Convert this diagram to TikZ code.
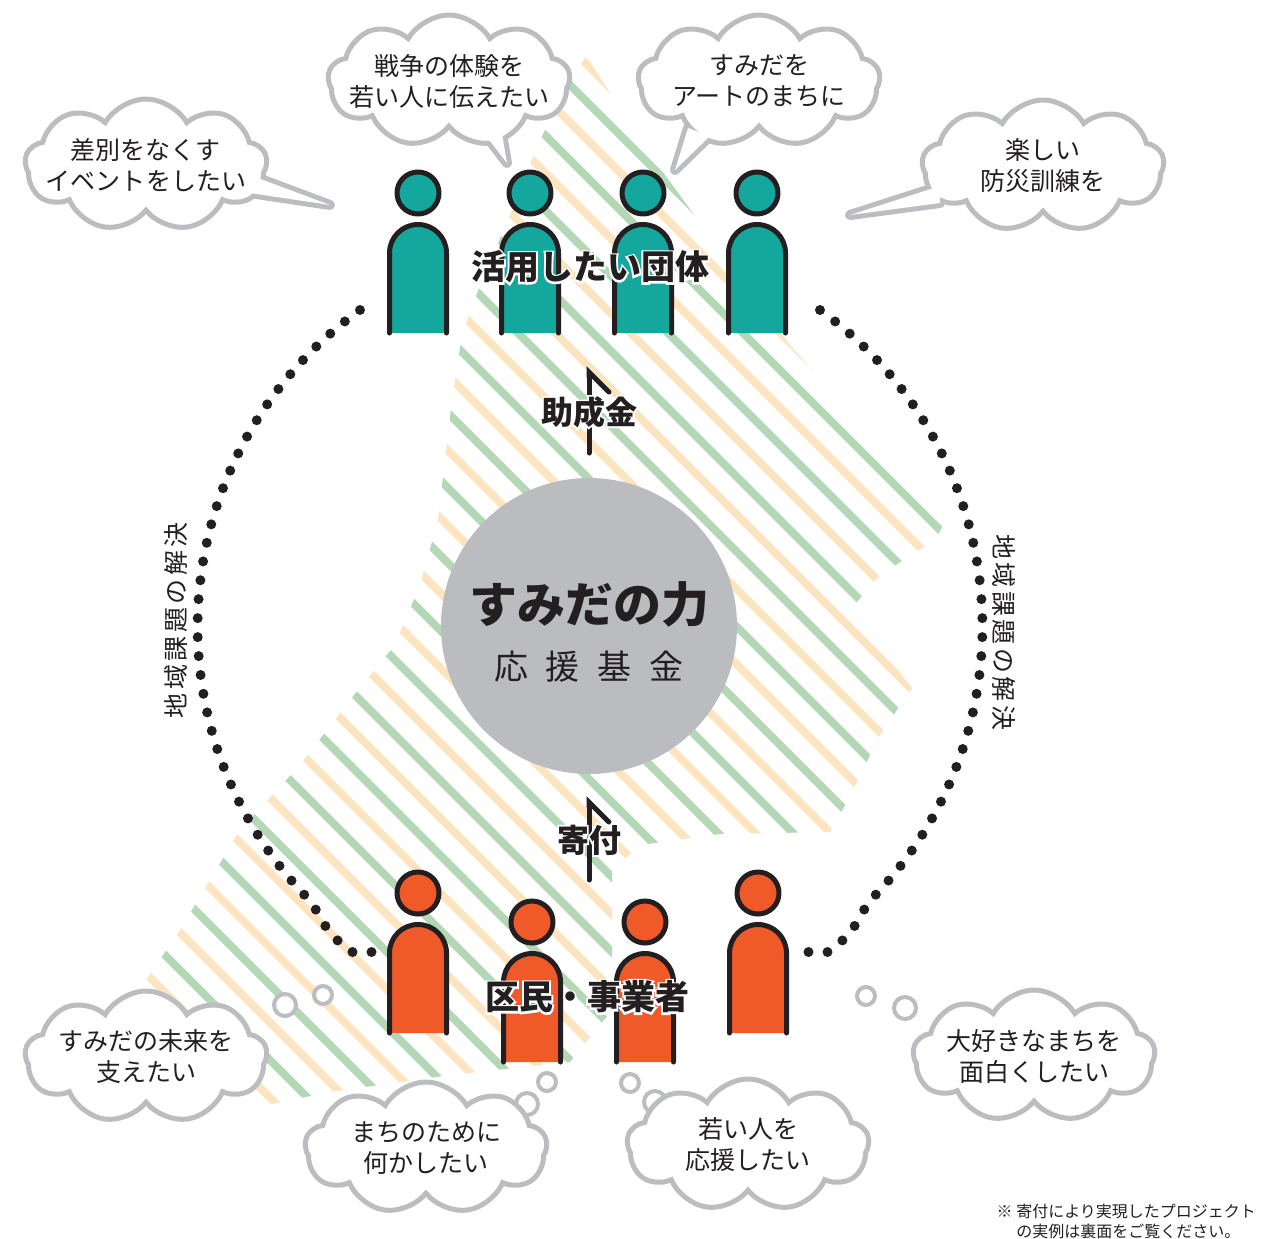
\documentclass[tikz,border=0pt]{standalone}
\usepackage{fontspec}
\setmainfont{Noto Sans CJK JP}
% white outlined copy of a bold label, laid under the label itself
\newfontfamily\halofont{Noto Sans CJK JP}[BoldFeatures={FakeBold=11}]
\newcommand\halo[1]{\leavevmode\rlap{\color{white}\halofont\bfseries #1}#1}
\usetikzlibrary{arrows.meta,shapes.symbols}

\definecolor{ink}{RGB}{35,31,32}
\definecolor{groupteal}{RGB}{19,167,157}
\definecolor{citizenorange}{RGB}{240,90,41}
\definecolor{fundgrey}{RGB}{187,188,192}
\definecolor{cloudgrey}{RGB}{188,189,193}
\definecolor{stripegreen}{RGB}{180,215,182}
\definecolor{stripeorange}{RGB}{253,228,192}

\begin{document}
\begin{tikzpicture}[x=0.5pt,y=-0.5pt,
    greenline/.style={draw=stripegreen, line width=4pt},
    orangeline/.style={draw=stripeorange, line width=4pt},
    outline/.style={draw=ink, line width=2.5pt, line cap=round, line join=round},
    head/.style={circle, outline, minimum size=21pt, inner sep=0pt},
    pics/person/.style={code={
        \filldraw[fill=#1, outline] (-28.5,140) -- (-28.5,60)
          arc[start angle=180, end angle=360, radius=28.5] -- (28.5,140);
        \node[head, fill=#1] (-head) at (0,0) {};
    }},
    fund/.style={circle, fill=fundgrey, minimum size=148pt, inner sep=0pt},
    grouplabel/.style={font=\bfseries\fontsize{17pt}{20pt}\selectfont, text=ink},
    flowlabel/.style={font=\bfseries\fontsize{16pt}{19pt}\selectfont, text=ink},
    flow/.style={draw=ink, line width=2.5pt, line cap=round,
      -{Straight Barb[harpoon, swap, length=10pt, width=20pt, line cap=round]}},
    dots/.style={draw=ink, line width=5pt, line cap=round, dash pattern=on 0pt off 9.5pt},
    sidelabel/.style={font=\fontsize{12.5pt}{14pt}\selectfont\addfontfeature{LetterSpace=14}, text=ink},
    wish/.style={cloud, cloud puffs=9, cloud puff arc=120, cloud ignores aspect,
      draw=cloudgrey, line width=2.5pt, fill=white,
      minimum width=121pt, minimum height=66pt, inner sep=0pt},
    wishtext/.style={align=center, text=ink, font=\fontsize{12.5pt}{15.5pt}\selectfont},
    tailback/.style={draw=cloudgrey, line width=5pt, line join=round, fill=white},
    tailfront/.style={fill=white},
    bubble/.style={circle, draw=cloudgrey, line width=2pt, fill=white, inner sep=0pt},
  ]
  \useasboundingbox (0,0) rectangle (1263,1238);

  % striped map of the ward
  \begin{scope}
    \clip (586,56) -- (628,120) -- (665,175) -- (720,250) -- (790,345) -- (860,425)
      -- (945,522) -- (935,540) -- (880,575) -- (850,610) -- (912,688) -- (880,735)
      -- (848,800) -- (830,832) -- (720,834) -- (640,845) -- (612,870) -- (612,1010)
      -- (570,1062) -- (450,1075) -- (330,1092) -- (252,1108) -- (138,992) -- (180,930)
      -- (240,830) -- (300,765) -- (350,700) -- (395,645) -- (420,585) -- (438,520)
      -- (445,460) -- (452,400) -- (462,335) -- (480,285) -- (510,215) -- (540,140)
      -- (565,90) -- cycle;
    \foreach \k in {-16,...,8} {
      \draw[greenline] (35+75*\k,0) -- ++(1300,1300);
      \draw[orangeline] (72.5+75*\k,0) -- ++(1300,1300);
    }
  \end{scope}

  % the loop of solved local issues
  \coordinate (dotL) at (360,310);
  \coordinate (dotLend) at (378,952);
  \coordinate (dotR) at (820,310);
  \coordinate (dotRend) at (800,952);
  \draw[dots] (dotL) arc[start angle=234.3, end angle=135, radius=390]
    .. controls (330,935) .. (352,952) -- (dotLend);
  \draw[dots] (dotR) arc[start angle=-54.3, end angle=45, radius=390]
    .. controls (850,935) .. (828,952) -- (dotRend);
  \node[sidelabel, rotate=90] (issueL) at (176,620) {地域課題の解決};
  \node[sidelabel, rotate=-90] (issueR) at (1004,632) {地域課題の解決};

  % fund in the middle
  \node[fund] (fund) at (589,626) {};
  \node[font=\bfseries\fontsize{24pt}{28pt}\selectfont, text=ink] (title) at (589,604) {すみだの力};
  \node[font=\fontsize{17pt}{20pt}\selectfont, text=ink] (subtitle) at (589,667)
    {応\hspace{9pt}援\hspace{9pt}基\hspace{9pt}金};

  % money flows
  \coordinate (grantlo) at (589,453);
  \coordinate (granthi) at (589,366);
  \coordinate (donlo) at (589,880);
  \coordinate (donhi) at (589,796);
  \draw[flow] (grantlo) -- (granthi);
  \draw[flow] (donlo) -- (donhi);
  \node[flowlabel] (grant) at (589,412) {\halo{助成金}};
  \node[flowlabel] (donation) at (589,840) {\halo{寄付}};

  % groups using the fund
  \pic (g1) at (418,193) {person=groupteal};
  \pic (g2) at (530,193) {person=groupteal};
  \pic (g3) at (643,193) {person=groupteal};
  \pic (g4) at (757,193) {person=groupteal};
  \node[grouplabel] (groups) at (590,267) {\halo{活用したい団体}};

  % residents and businesses
  \pic (c1) at (418,893) {person=citizenorange};
  \pic (c2) at (532,922) {person=citizenorange};
  \pic (c3) at (645,922) {person=citizenorange};
  \pic (c4) at (758,893) {person=citizenorange};
  \node[grouplabel] (citizens) at (587,997) {\halo{区民・事業者}};

  % speech clouds
  \draw[tailback] (250,175) -- (330,205) -- (250,193) -- cycle;
  \draw[tailback] (480,128) -- (507,163) -- (500,122) -- cycle;
  \draw[tailback] (688,128) -- (675,170) -- (710,136) -- cycle;
  \draw[tailback] (940,186) -- (850,215) -- (940,203) -- cycle;
  \node[wish] (w1) at (146,165) {};
  \node[wish] (w2) at (449,81) {};
  \node[wish] (w3) at (759,81) {};
  \node[wish] (w4) at (1043,166) {};
  \fill[tailfront] (250,175) -- (330,205) -- (250,193) -- cycle;
  \fill[tailfront] (480,128) -- (507,163) -- (500,122) -- cycle;
  \fill[tailfront] (688,128) -- (675,170) -- (710,136) -- cycle;
  \fill[tailfront] (940,186) -- (850,215) -- (940,203) -- cycle;
  \node[wishtext] (t1) at (w1) {差別をなくす\\イベントをしたい};
  \node[wishtext] (t2) at (w2) {戦争の体験を\\若い人に伝えたい};
  \node[wishtext] (t3) at (w3) {すみだを\\アートのまちに};
  \node[wishtext] (t4) at (w4) {楽しい\\防災訓練を};

  % thought clouds
  \node[bubble, minimum size=9pt] (b5a) at (323,995) {};
  \node[bubble, minimum size=11pt] (b5b) at (285,1005) {};
  \node[bubble, minimum size=9pt] (b6a) at (547,1082) {};
  \node[bubble, minimum size=11pt] (b6b) at (527,1104) {};
  \node[bubble, minimum size=9pt] (b7a) at (630,1083) {};
  \node[bubble, minimum size=11pt] (b7b) at (655,1102) {};
  \node[bubble, minimum size=9pt] (b8a) at (866,996) {};
  \node[bubble, minimum size=11pt] (b8b) at (905,1008) {};
  \node[wish] (w5) at (146,1057) {};
  \node[wish] (w6) at (426,1148) {};
  \node[wish] (w7) at (748,1145) {};
  \node[wish] (w8) at (1034,1056) {};
  \node[wishtext] (t5) at (w5) {すみだの未来を\\支えたい};
  \node[wishtext] (t6) at (w6) {まちのために\\何かしたい};
  \node[wishtext] (t7) at (w7) {若い人を\\応援したい};
  \node[wishtext] (t8) at (w8) {大好きなまちを\\面白くしたい};

  \node[anchor=north east, align=left, text=ink, font=\fontsize{8pt}{10pt}\selectfont]
    (note) at (1263,1197) {※ 寄付により実現したプロジェクト\\\hphantom{※ }の実例は裏面をご覧ください。};
\end{tikzpicture}
\end{document}
